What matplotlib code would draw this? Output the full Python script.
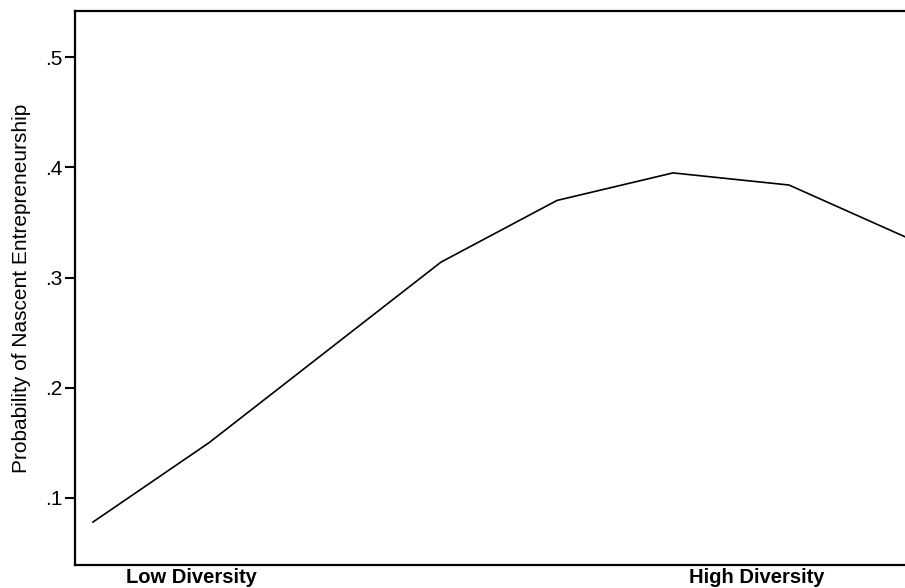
import matplotlib
matplotlib.use("Agg")
import matplotlib.pyplot as plt

# predicted probability across diversity levels
diversity = [0, 1, 2, 3, 4, 5, 6, 7]
prob = [0.078, 0.150, 0.232, 0.314, 0.370, 0.395, 0.384, 0.337]

xtick_pos = [0.85, 5.72]
xtick_labels = ["Low Diversity", "High Diversity"]
yticks = [0.1, 0.2, 0.3, 0.4, 0.5]
ytick_labels = [".1", ".2", ".3", ".4", ".5"]

plt.rcParams['font.family'] = ['Liberation Sans', 'DejaVu Sans']

fig = plt.figure(figsize=(9.05, 5.88), dpi=100)
ax = fig.add_axes([75 / 905, 23 / 588, 1 - 75 / 905, (565 - 11) / 588])

ax.plot(diversity, prob, color="black", lw=1.2)

ax.set_xlim(-0.155, 7.0)
ax.set_ylim(0.039, 0.542)

ax.set_yticks(yticks)
ax.set_yticklabels(ytick_labels, fontsize=15)
ax.set_xticks(xtick_pos)
ax.set_xticklabels(xtick_labels, fontsize=14.5, fontweight="bold")
ax.tick_params(axis="y", length=7, width=1.5, direction="out", pad=2)
ax.tick_params(axis="x", length=0, pad=2)

ax.set_ylabel("Probability of Nascent Entrepreneurship", fontsize=15, labelpad=10)

ax.spines["right"].set_visible(False)
for s in ["left", "bottom", "top"]:
    ax.spines[s].set_linewidth(1.6)

fig.savefig("out.png", dpi=100)
